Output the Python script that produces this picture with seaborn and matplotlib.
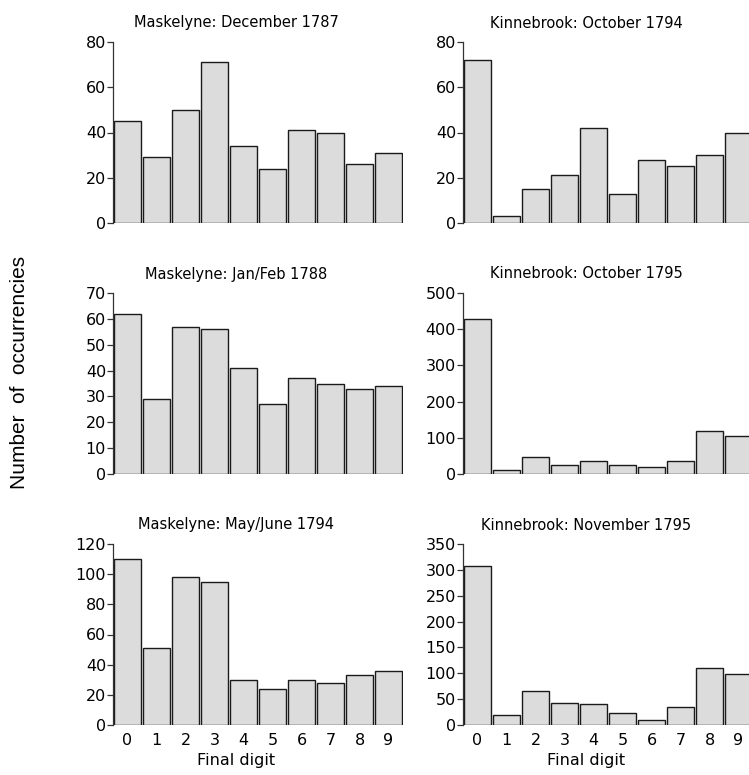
import matplotlib
matplotlib.use("Agg")
import matplotlib.pyplot as plt
import seaborn as sns
import pandas as pd

digits = list(range(10))

titles = [
    "Maskelyne: December 1787", "Kinnebrook: October 1794",
    "Maskelyne: Jan/Feb 1788", "Kinnebrook: October 1795",
    "Maskelyne: May/June 1794", "Kinnebrook: November 1795",
]

mask_dec_1787 = [45, 29, 50, 71, 34, 24, 41, 40, 26, 31]
kinn_oct_1794 = [72, 3, 15, 21, 42, 13, 28, 25, 30, 40]
mask_janfeb_1788 = [62, 29, 57, 56, 41, 27, 37, 35, 33, 34]
kinn_oct_1795 = [428, 12, 46, 25, 36, 25, 20, 36, 118, 106]
mask_mayjun_1794 = [110, 51, 98, 95, 30, 24, 30, 28, 33, 36]
kinn_nov_1795 = [308, 19, 66, 43, 40, 23, 10, 34, 111, 98]

series = [mask_dec_1787, kinn_oct_1794, mask_janfeb_1788,
          kinn_oct_1795, mask_mayjun_1794, kinn_nov_1795]

yticks = [
    [0, 20, 40, 60, 80], [0, 20, 40, 60, 80],
    [0, 10, 20, 30, 40, 50, 60, 70], [0, 100, 200, 300, 400, 500],
    [0, 20, 40, 60, 80, 100, 120], [0, 50, 100, 150, 200, 250, 300, 350],
]

sns.set_style("white")
plt.rcParams["font.family"] = ["DejaVu Sans"]
plt.rcParams["text.color"] = "black"
plt.rcParams["xtick.color"] = "black"
plt.rcParams["ytick.color"] = "black"

W, H = 749, 775
fig = plt.figure(figsize=(W / 100, H / 100), dpi=100)

col_left = [113, 463]
row_base = [223, 474, 725]
ax_w, ax_h = 290, 181

for i, (vals, title, yt) in enumerate(zip(series, titles, yticks)):
    r, c = divmod(i, 2)
    ax = fig.add_axes([col_left[c] / W, 1 - row_base[r] / H, ax_w / W, ax_h / H])
    df = pd.DataFrame({"digit": [str(d) for d in digits], "count": vals})
    sns.barplot(data=df, x="digit", y="count", ax=ax, color="#dcdcdc",
                saturation=1, edgecolor="#1a1a1a", linewidth=1.0, width=0.92)
    ax.set_xlim(-0.5, 9.5)
    ax.set_ylim(0, yt[-1])
    ax.set_yticks(yt)
    ax.set_ylabel("")
    ax.set_xlabel("")
    for s in ["top", "right", "bottom"]:
        ax.spines[s].set_visible(False)
    ax.spines["left"].set_color("#333333")
    ax.spines["left"].set_linewidth(0.9)
    ax.tick_params(axis="y", length=4, width=0.9, color="#333333",
                   labelsize=11.5, pad=1, direction="out", left=True,
                   labelcolor="black")
    ax.tick_params(axis="x", length=0, labelsize=11.5, pad=6,
                   labelcolor="black")
    if r < 2:
        ax.set_xticklabels([])
    cx = (col_left[c] - 22 + ax_w / 2) / W
    fig.text(cx, 1 - (row_base[r] - ax_h - 19) / H, title,
             ha="center", va="center", fontsize=10.5, color="black")
    if r == 2:
        fig.text(cx, 1 - 760 / H, "Final digit", ha="center", va="center",
                 fontsize=11.5, color="black")

fig.text(20 / W, 1 - 372 / H, "Number  of  occurrencies", rotation=90,
         ha="center", va="center", fontsize=15, family="Liberation Sans",
         color="black")

fig.savefig("out.png", dpi=100)
